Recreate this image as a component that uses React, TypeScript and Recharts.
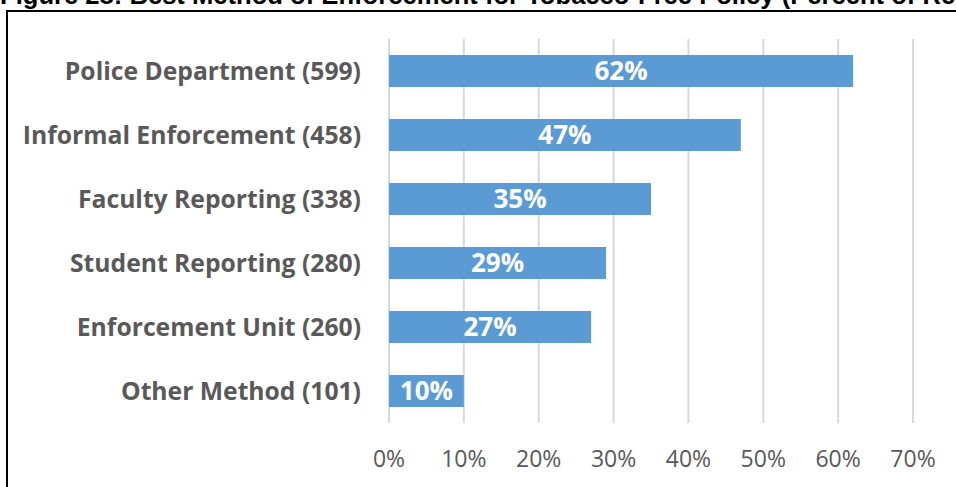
import React from "react";
import { BarChart, Bar, XAxis, YAxis, CartesianGrid, LabelList } from "recharts";

const categories = [
  "Police Department (599)",
  "Informal Enforcement (458)",
  "Faculty Reporting (338)",
  "Student Reporting (280)",
  "Enforcement Unit (260)",
  "Other Method (101)",
];
const percents = [62, 47, 35, 29, 27, 10];
const xTicks = [0, 10, 20, 30, 40, 50, 60, 70];
const title = "Figure 28: Best Method of Enforcement for Tobacco-Free Policy (Percent of Respondents)";

const data = categories.map((name, i) => ({ name, value: percents[i] }));

const FONT = "'Open Sans', 'Noto Sans', sans-serif";

export default function App() {
  return (
    <div style={{ position: "fixed", left: 0, top: 0, width: 956, height: 487, overflow: "hidden", background: "#fff" }}>
      <div
        style={{
          position: "absolute",
          left: 0,
          top: -19,
          whiteSpace: "nowrap",
          fontFamily: "'Liberation Sans', Arial, sans-serif",
          fontWeight: 700,
          fontSize: 25.6,
          lineHeight: "29px",
          color: "#000",
        }}
      >
        {title}
      </div>
      <div
        style={{
          position: "absolute",
          left: 6,
          top: 10,
          width: 1000,
          height: 600,
          borderLeft: "2px solid #000",
          borderTop: "2px solid #000",
          boxSizing: "border-box",
        }}
      />
      <div style={{ position: "absolute", left: 0, top: 0 }}>
        <BarChart
          width={956}
          height={487}
          data={data}
          layout="vertical"
          margin={{ top: 39, right: 43, bottom: 24, left: 0 }}
          barCategoryGap="25%"
        >
          <CartesianGrid horizontal={false} vertical={true} stroke="#D9D9D9" strokeWidth={2} />
          <XAxis
            type="number"
            domain={[0, 70]}
            ticks={xTicks}
            tickFormatter={(v: number) => `${v}%`}
            axisLine={false}
            tickLine={false}
            tickSize={0}
            tickMargin={28}
            height={40}
            interval={0}
            tick={{ fill: "#595959", fontSize: 23, fontFamily: FONT }}
          />
          <YAxis
            type="category"
            dataKey="name"
            width={389}
            axisLine={false}
            tickLine={false}
            tickSize={0}
            tickMargin={28}
            interval={0}
            tick={{ fill: "#595959", fontSize: 24.7, fontWeight: 700, fontFamily: FONT }}
          />
          <Bar dataKey="value" fill="#5B9BD5" isAnimationActive={false}>
            <LabelList
              dataKey="value"
              position="center"
              formatter={(v: number) => `${v}%`}
              fill="#FFFFFF"
              style={{ fontSize: 26, fontWeight: 700, fontFamily: FONT }}
            />
          </Bar>
        </BarChart>
      </div>
    </div>
  );
}
